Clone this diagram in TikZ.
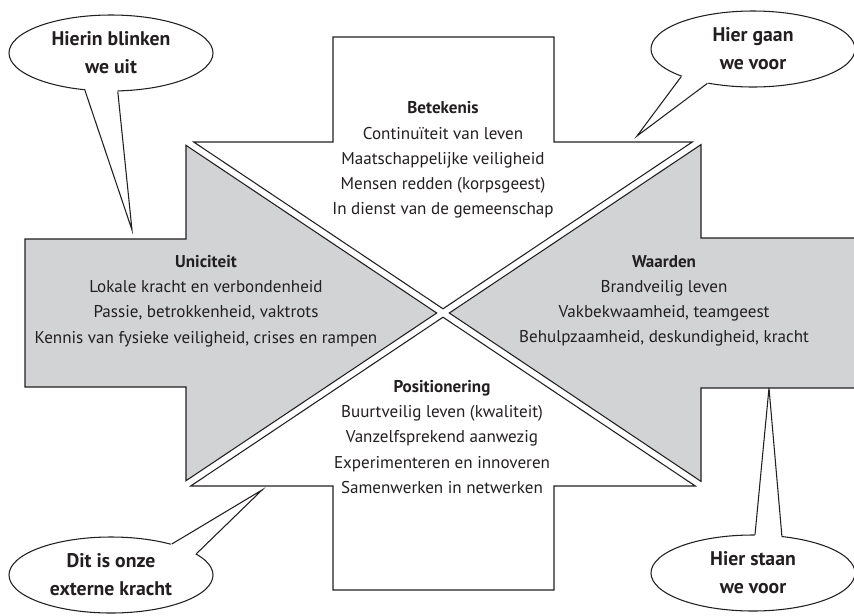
\documentclass[tikz,border=0pt]{standalone}
\usepackage{fontspec}
\setmainfont{PT Sans}
\usetikzlibrary{shapes.geometric,calc}
\definecolor{clArrow}{HTML}{D1D3D4}
\definecolor{clInk}{HTML}{231F20}
\tikzset{
  block/.style={draw=clInk, line width=0.8pt, line join=miter},
  whiteblock/.style={block, fill=white},
  greyblock/.style={block, fill=clArrow},
  blocktext/.style={align=center, text=clInk, inner sep=0pt,
                    font=\fontsize{12.8}{18.9}\selectfont},
  bubble/.style={ellipse, draw=clInk, fill=white, line width=0.8pt, inner sep=0pt,
                 minimum width=153pt, minimum height=57pt, align=center, text=clInk,
                 font=\bfseries\fontsize{14.8}{21}\selectfont},
  tail/.style={draw=clInk, line width=0.8pt, line join=miter},
}
% tail of a speech bubble: bubble node, tip, two border angles
\newcommand{\bubbletail}[4]{
  \fill[white] (#1.#3) -- (#2) -- (#1.#4) -- ($(#1.center)!0.85!(#1.#4)$)
    -- ($(#1.center)!0.85!(#1.#3)$) -- cycle;
  \draw[tail] (#1.#3) -- (#2) -- (#1.#4);
}

\begin{document}
\begin{tikzpicture}[x=0.75pt, y=-0.75pt]
  \useasboundingbox (0,0) rectangle (854,615);
  % four arrows pointing at the middle
  \draw[whiteblock] (333,37) -- (554,37) -- (554,142) -- (692.3,142) -- (443,308.8)
    -- (193.7,142) -- (333,142) -- cycle;
  \draw[whiteblock] (333,590) -- (554,590) -- (554,486) -- (695.3,486) -- (443,317.2)
    -- (190.7,486) -- (333,486) -- cycle;
  \draw[greyblock] (25,239) -- (186,239) -- (186,145.3) -- (436.7,313) -- (186,480.7)
    -- (186,387) -- (25,387) -- cycle;
  \draw[greyblock] (880,238) -- (701,238) -- (701,144.6) -- (449.3,313) -- (701,481.4)
    -- (701,388) -- (880,388) -- cycle;

  \node[blocktext] (betekenis) at (443,160) {\textbf{Betekenis}\\Continuïteit van leven\\
    Maatschappelijke veiligheid\\Mensen redden (korpsgeest)\\In dienst van de gemeenschap};
  \node[blocktext] (uniciteit) at (206,301) {\textbf{Uniciteit}\\Lokale kracht en verbondenheid\\
    Passie, betrokkenheid, vaktrots\\Kennis van fysieke veiligheid, crises en rampen};
  \node[blocktext] (waarden) at (664,301) {\textbf{Waarden}\\Brandveilig leven\\
    Vakbekwaamheid, teamgeest\\Behulpzaamheid, deskundigheid, kracht};
  \node[blocktext] (positionering) at (442,437) {\textbf{Positionering}\\Buurtveilig leven (kwaliteit)\\
    Vanzelfsprekend aanwezig\\Experimenteren en innoveren\\Samenwerken in netwerken};

  % speech bubbles
  \node[bubble] (hb1) at (111,53) {Hierin blinken\\we uit};
  \node[bubble] (hb2) at (753,49) {Hier gaan\\we voor};
  \node[bubble] (hb3) at (111,575) {Dit is onze\\externe kracht};
  \node[bubble] (hb4) at (753,573) {Hier staan\\we voor};
  \coordinate (t1) at (132,230);
  \coordinate (t2) at (637,136);
  \coordinate (t3) at (262,490);
  \coordinate (t4) at (769,388);
  \bubbletail{hb1}{t1}{235}{280}
  \bubbletail{hb2}{t2}{201}{217}
  \bubbletail{hb3}{t3}{27}{14}
  \bubbletail{hb4}{t4}{87}{52}
\end{tikzpicture}
\end{document}
